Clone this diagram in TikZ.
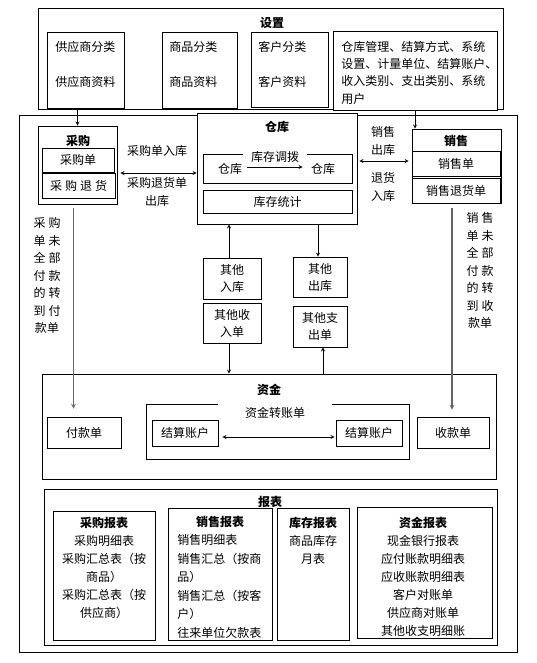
\documentclass[tikz,border=0pt]{standalone}
\usepackage{fontspec}
\setmainfont{Noto Sans CJK SC}
\usetikzlibrary{arrows}
\tikzstyle{frame} = [rectangle, draw=black, inner sep=0pt]
\tikzstyle{box} = [rectangle, draw=black, align=center, inner sep=0pt, font=\fontsize{12}{17}\selectfont]
\tikzstyle{title} = [inner sep=0pt, font=\fontsize{12}{14}\selectfont\bfseries]
\tikzstyle{txt} = [inner sep=0pt, font=\fontsize{12}{18}\selectfont]
\tikzstyle{gap} = [fill=white, inner sep=0pt]
\tikzstyle{arrow} = [->,>=stealth]
\tikzstyle{dblarrow} = [<->,>=stealth]
\tikzstyle{feed} = [->,>=stealth, draw=gray!80!black, line width=1.1pt]

\begin{document}
\begin{tikzpicture}[x=1pt, y=-1pt, line width=0.8pt]
\useasboundingbox (0,0) rectangle (536,663);

% settings
\node (setbox) [frame, minimum width=465pt, minimum height=101pt] at (270.5,58.5) {};
\node (settitle) [title] at (272,23) {设置};
\node (supp) [frame, minimum width=77pt, minimum height=76pt] at (85.5,70) {};
\node (supp1) [txt, anchor=west] at (55,47) {供应商分类};
\node (supp2) [txt, anchor=west] at (55,82) {供应商资料};
\node (goods) [frame, minimum width=75pt, minimum height=76pt] at (199.5,70) {};
\node (goods1) [txt, anchor=west] at (169,47) {商品分类};
\node (goods2) [txt, anchor=west] at (169,82) {商品资料};
\node (cust) [frame, minimum width=77pt, minimum height=75pt] at (289.5,69.5) {};
\node (cust1) [txt, anchor=west] at (258,47) {客户分类};
\node (cust2) [txt, anchor=west] at (258,82) {客户资料};
\node (misc) [frame, minimum width=164pt, minimum height=79pt, fill=white] at (415,70.5) {};
\node (misctxt) [txt, anchor=north west, align=left, font=\fontsize{12}{17.2}\selectfont] at (341,41) {仓库管理、结算方式、系统\\设置、计量单位、结算账户、\\收入类别、支出类别、系统\\用户};

% main frame
\node (mainbox) [frame, minimum width=498pt, minimum height=537pt] at (268,383.5) {};

% warehouse
\node (wh) [frame, minimum width=160pt, minimum height=111pt, fill=white] at (277,168.5) {};
\node (whtitle) [title] at (277,127) {仓库};
\node (move) [frame, minimum width=149pt, minimum height=29pt] at (277.5,168.5) {};
\node (movetitle) [txt, gap, minimum width=64pt, minimum height=12pt] at (275,157) {库存调拨};
\node (wha) [txt] at (230,169) {仓库};
\node (whb) [txt] at (323,169) {仓库};
\draw [arrow] ([xshift=5pt,yshift=2pt]wha.east) -- ([xshift=-8pt,yshift=2pt]whb.west);
\node (stat) [box, minimum width=149pt, minimum height=23pt] at (277.5,201.5) {库存统计};

% purchase
\node (purch) [frame, minimum width=79pt, minimum height=78pt] at (77.5,165) {};
\node (purchtitle) [title] at (78,141) {采购};
\node (po) [box, minimum width=72pt, minimum height=24pt] at (78,160) {采购单};
\node (pr) [box, minimum width=73pt, minimum height=25pt] at (78.5,185.5) {采\hspace{3pt}购\hspace{3pt}退\hspace{3pt}货};

% sales
\node (sales) [frame, minimum width=89pt, minimum height=74pt] at (456.5,166) {};
\node (salestitle) [title] at (456,141) {销售};
\node (so) [box, minimum width=88pt, minimum height=25pt] at (456,163.5) {销售单};
\node (sr) [box, minimum width=88pt, minimum height=25pt] at (456,190.5) {销售退货单};

\node (pin) [txt] at (157,151) {采购单入库};
\node (pout) [txt, align=center] at (157,192) {采购退货单\\出库};
\node (sout) [txt, align=center] at (383,140.5) {销售\\出库};
\node (sin) [txt, align=center] at (383,187) {退货\\入库};

\draw [arrow] (purch.north |- setbox.south) -- (purch.north);
\draw [arrow] (misc.south) -- (misc.south |- sales.north);
\draw [dblarrow, shorten <=3pt] ([yshift=-8pt]purch.east) -- ([yshift=-8pt]purch.east -| wh.west);
\draw [dblarrow, shorten <=2pt, shorten >=3pt] ([yshift=7.5pt]wh.east) -- ([yshift=7.5pt]wh.east -| sales.west);

% other in / out
\node (inother) [box, minimum width=58pt, minimum height=41pt] at (232,278.5) {其他\\入库};
\node (inpay) [box, minimum width=58pt, minimum height=40pt] at (232,323) {其他收\\入单};
\node (outother) [box, minimum width=54pt, minimum height=40pt] at (320,277) {其他\\出库};
\node (outpay) [box, minimum width=54pt, minimum height=41pt] at (320,326.5) {其他支\\出单};

% funds
\node (fund) [frame, minimum width=454pt, minimum height=105pt] at (269,426.5) {};
\node (fundtitle) [title] at (269,390) {资金};
\node (pay) [box, minimum width=74pt, minimum height=31pt] at (84,432.5) {付款单};
\node (recv) [box, minimum width=72pt, minimum height=31pt] at (453,432.5) {收款单};
\node (trans) [frame, minimum width=263pt, minimum height=55pt] at (277.5,431.5) {};
\node (transtitle) [txt, gap, minimum width=114pt, minimum height=20pt] at (275,413) {资金转账单};
\node (acc1) [box, minimum width=66pt, minimum height=26pt] at (185,433) {结算账户};
\node (acc2) [box, minimum width=66pt, minimum height=26pt] at (369,433) {结算账户};
\draw [dblarrow, shorten <=4pt, shorten >=1pt] ([yshift=-4pt]acc1.east) -- ([yshift=-4pt]acc1.east -| acc2.west);

\draw [arrow] ([xshift=-3pt]inother.north) -- ([xshift=-3pt]inother.north |- wh.south);
\draw [arrow] ([xshift=-2pt]outother.north |- wh.south) -- ([xshift=-2pt]outother.north);
\draw [arrow] ([xshift=-3pt]inpay.south) -- ([xshift=-3pt]inpay.south |- fund.north);
\draw [arrow] ([xshift=3pt]outpay.south |- fund.north) -- ([xshift=3pt]outpay.south);

% unpaid orders
\node (pnote) [txt, align=center, font=\fontsize{12}{17.5}\selectfont] at (47,275.5) {采\hspace{3pt}购\\单\hspace{3pt}未\\全\hspace{3pt}部\\付\hspace{3pt}款\\的\hspace{3pt}转\\到\hspace{3pt}付\\款单};
\node (snote) [txt, align=center, font=\fontsize{12}{17.5}\selectfont] at (480,270.5) {销\hspace{3pt}售\\单\hspace{3pt}未\\全\hspace{3pt}部\\付\hspace{3pt}款\\的\hspace{3pt}转\\到\hspace{3pt}收\\款单};
\draw [feed, shorten <=4pt, shorten >=8pt] ([xshift=-4pt]purch.south) -- ([xshift=-4pt]purch.south |- pay.north);
\draw [feed, shorten <=5pt, shorten >=7pt] ([xshift=-4.5pt]sales.south) -- ([xshift=-4.5pt]sales.south |- recv.north);

% reports
\node (rep) [frame, minimum width=453pt, minimum height=156pt] at (270.5,567) {};
\node (reptitle) [title] at (270,502) {报表};
\node (r1) [frame, minimum width=102pt, minimum height=129pt, fill=white] at (104,575.5) {};
\node (r1txt) [txt, align=center, anchor=north] at (104,517) {\textbf{采购报表}\\采购明细表\\采购汇总表（按\\商品）\\采购汇总表（按\\供应商）};
\node (r2) [frame, minimum width=104pt, minimum height=132pt, fill=white] at (220,574) {};
\node (r2title) [title] at (220,522) {销售报表};
\node (r2txt) [txt, align=left, anchor=north west, font=\fontsize{12}{18.6}\selectfont] at (177,534) {销售明细表\\销售汇总（按商\\品）\\销售汇总（按客\\户）\\往来单位欠款表};
\node (r3) [frame, minimum width=72pt, minimum height=132pt, fill=white] at (313,574) {};
\node (r3txt) [txt, align=center, anchor=north] at (313,517) {\textbf{库存报表}\\商品库存\\月表};
\node (r4) [frame, minimum width=135pt, minimum height=131pt] at (424.5,572.5) {};
\node (r4txt) [txt, align=center, anchor=north] at (423,517) {\textbf{资金报表}\\现金银行报表\\应付账款明细表\\应收账款明细表\\客户对账单\\供应商对账单\\其他收支明细账};

\end{tikzpicture}
\end{document}
